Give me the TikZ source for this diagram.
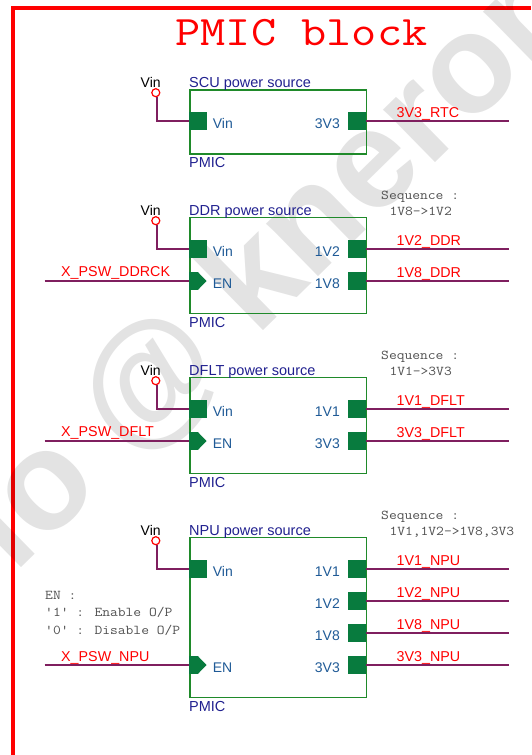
\documentclass[tikz,border=0pt]{standalone}
\usepackage{fontspec}
\setmainfont{Liberation Sans}
\definecolor{wirecol}{HTML}{7F1F5F}
\definecolor{pincol}{HTML}{087B3E}
\definecolor{boxcol}{HTML}{1F8A2A}
\definecolor{titlecol}{HTML}{20208F}
\definecolor{pintext}{HTML}{1F5A96}
\definecolor{notecol}{HTML}{505050}
\tikzset{
    wire/.style={draw=wirecol, line width=1.2pt},
    pmicbox/.style={draw=boxcol, line width=1.5pt, minimum width=176.5pt, inner sep=0pt, anchor=north west},
    pinbox/.style={fill=pincol, minimum size=17.5pt, inner sep=0pt},
    vinring/.style={circle, draw=red, line width=1.2pt, minimum size=8pt, inner sep=0pt},
    sigtext/.style={font=\fontsize{14.3}{14.3}\selectfont, text=red, anchor=base west, inner sep=0pt},
    pintxt/.style={font=\fontsize{14}{14}\selectfont, text=pintext, anchor=base, inner sep=0pt},
    blocktxt/.style={font=\fontsize{14.5}{14.5}\selectfont, text=titlecol, anchor=base west, inner sep=0pt},
    vintxt/.style={font=\fontsize{14}{14}\selectfont, text=black, anchor=base, inner sep=0pt},
    notetxt/.style={font=\ttfamily\fontsize{13.5}{13.5}\selectfont, text=notecol, anchor=base west, inner sep=0pt, xscale=1.12, transform shape},
}
\begin{document}
\begin{tikzpicture}[x=1pt, y=-1pt]
    \useasboundingbox (0,0) rectangle (531,755);
    \clip (0,0) rectangle (531,755);

    % Sheet border
    \draw[red, line width=4pt] (13,755) -- (13,8) -- (531,8);

    % Watermark
    \node[font=\fontsize{140}{140}\selectfont\bfseries, text=black, text opacity=0.11, rotate=44.4, anchor=base, inner sep=0pt] (mark) at (302,293) {io @ kneron};

    % Title
    \node[font=\ttfamily\fontsize{42}{42}\selectfont, text=red, anchor=base, inner sep=0pt, xscale=1.165, transform shape] (title) at (301.5,45) {PMIC block};

    % SCU block
    \node[pmicbox, minimum height=64pt] (scubox) at (189,89) {};
    \node[blocktxt] (scuname) at (189,87) {SCU power source};
    \node[blocktxt] (scupmic) at (189,167) {PMIC};
    \node[vintxt] (scuvinname) at (150.7,87) {Vin};
    \node[vinring] (scuring) at (155.8,92.7) {};
    \node[pinbox, anchor=west] (scuvin) at (189,121) {};
    \node[pinbox, anchor=east] (scuthree) at (366,121) {};
    \node[pintxt, anchor=base west] (scuvintxt) at (212.7,128) {Vin};
    \node[pintxt, anchor=base east] (scuthreetxt) at (340,128) {3V3};
    \coordinate (scuout) at (508.7,121);
    \draw[wire] (scuring.south -| 157,0) |- (scuvin.west);
    \draw[wire] (scuthree.east) -- (scuout);
    \node[sigtext] (scurtc) at (396.5,117) {3V3\_RTC};

    % DDR block
    \node[pmicbox, minimum height=96pt] (ddrbox) at (189,216.7) {};
    \node[blocktxt] (ddrname) at (189,215) {DDR power source};
    \node[blocktxt] (ddrpmic) at (189,327) {PMIC};
    \node[vintxt] (ddrvinname) at (150.7,215) {Vin};
    \node[vinring] (ddrring) at (155.8,220.7) {};
    \node[pinbox, anchor=west] (ddrvin) at (189,249) {};
    \fill[pincol] (189,272.2) -- (198,272.2) -- (206.5,281) -- (198,289.8) -- (189,289.8) -- cycle;
    \coordinate (ddren) at (189,281);
    \node[pinbox, anchor=east] (ddrtwo) at (366,249) {};
    \node[pinbox, anchor=east] (ddreight) at (366,281) {};
    \node[pintxt, anchor=base west] (ddrvintxt) at (212.7,256) {Vin};
    \node[pintxt, anchor=base west] (ddrentxt) at (212.7,288) {EN};
    \node[pintxt, anchor=base east] (ddrtwotxt) at (340,256) {1V2};
    \node[pintxt, anchor=base east] (ddreighttxt) at (340,288) {1V8};
    \coordinate (ddrckin) at (44.5,281);
    \coordinate (ddrtwoout) at (508.7,249);
    \coordinate (ddreightout) at (508.7,281);
    \draw[wire] (ddrring.south -| 157,0) |- (ddrvin.west);
    \draw[wire] (ddrckin) -- (ddren);
    \draw[wire] (ddrtwo.east) -- (ddrtwoout);
    \draw[wire] (ddreight.east) -- (ddreightout);
    \node[sigtext] (ddrck) at (61,276.7) {X\_PSW\_DDRCK};
    \node[sigtext] (ddrtwosig) at (396.5,245) {1V2\_DDR};
    \node[sigtext] (ddreightsig) at (396.5,277) {1V8\_DDR};
    \node[notetxt] (ddrseq) at (381,199.3) {Sequence :};
    \node[notetxt] (ddrord) at (389.3,215) {1V8->1V2};

    % DFLT block
    \node[pmicbox, minimum height=96pt] (dfltbox) at (189,376.7) {};
    \node[blocktxt] (dfltname) at (189,375) {DFLT power source};
    \node[blocktxt] (dfltpmic) at (189,487) {PMIC};
    \node[vintxt] (dfltvinname) at (150.7,375) {Vin};
    \node[vinring] (dfltring) at (155.8,380.7) {};
    \node[pinbox, anchor=west] (dfltvin) at (189,409) {};
    \fill[pincol] (189,432.2) -- (198,432.2) -- (206.5,441) -- (198,449.8) -- (189,449.8) -- cycle;
    \coordinate (dflten) at (189,441);
    \node[pinbox, anchor=east] (dfltone) at (366,409) {};
    \node[pinbox, anchor=east] (dfltthree) at (366,441) {};
    \node[pintxt, anchor=base west] (dfltvintxt) at (212.7,416) {Vin};
    \node[pintxt, anchor=base west] (dfltentxt) at (212.7,448) {EN};
    \node[pintxt, anchor=base east] (dfltonetxt) at (340,416) {1V1};
    \node[pintxt, anchor=base east] (dfltthreetxt) at (340,448) {3V3};
    \coordinate (dfltswin) at (44.5,441);
    \coordinate (dfltoneout) at (508.7,409);
    \coordinate (dfltthreeout) at (508.7,441);
    \draw[wire] (dfltring.south -| 157,0) |- (dfltvin.west);
    \draw[wire] (dfltswin) -- (dflten);
    \draw[wire] (dfltone.east) -- (dfltoneout);
    \draw[wire] (dfltthree.east) -- (dfltthreeout);
    \node[sigtext] (dfltsw) at (61,436.7) {X\_PSW\_DFLT};
    \node[sigtext] (dfltonesig) at (396.5,405) {1V1\_DFLT};
    \node[sigtext] (dfltthreesig) at (396.5,437) {3V3\_DFLT};
    \node[notetxt] (dfltseq) at (381,359.3) {Sequence :};
    \node[notetxt] (dfltord) at (389.3,375) {1V1->3V3};

    % NPU block
    \node[pmicbox, minimum height=160pt] (npubox) at (189,536.7) {};
    \node[blocktxt] (npuname) at (189,535) {NPU power source};
    \node[blocktxt] (npupmic) at (189,711) {PMIC};
    \node[vintxt] (npuvinname) at (150.7,535) {Vin};
    \node[vinring] (npuring) at (155.8,540.7) {};
    \node[pinbox, anchor=west] (npuvin) at (189,569) {};
    \fill[pincol] (189,656.2) -- (198,656.2) -- (206.5,665) -- (198,673.8) -- (189,673.8) -- cycle;
    \coordinate (npuen) at (189,665);
    \node[pinbox, anchor=east] (npuone) at (366,569) {};
    \node[pinbox, anchor=east] (nputwo) at (366,601) {};
    \node[pinbox, anchor=east] (npueight) at (366,633) {};
    \node[pinbox, anchor=east] (nputhree) at (366,665) {};
    \node[pintxt, anchor=base west] (npuvintxt) at (212.7,576) {Vin};
    \node[pintxt, anchor=base west] (npuentxt) at (212.7,672) {EN};
    \node[pintxt, anchor=base east] (npuonetxt) at (340,576) {1V1};
    \node[pintxt, anchor=base east] (nputwotxt) at (340,608) {1V2};
    \node[pintxt, anchor=base east] (npueighttxt) at (340,640) {1V8};
    \node[pintxt, anchor=base east] (nputhreetxt) at (340,672) {3V3};
    \coordinate (npuswin) at (44.5,665);
    \coordinate (npuoneout) at (508.7,569);
    \coordinate (nputwoout) at (508.7,601);
    \coordinate (npueightout) at (508.7,633);
    \coordinate (nputhreeout) at (508.7,665);
    \draw[wire] (npuring.south -| 157,0) |- (npuvin.west);
    \draw[wire] (npuswin) -- (npuen);
    \draw[wire] (npuone.east) -- (npuoneout);
    \draw[wire] (nputwo.east) -- (nputwoout);
    \draw[wire] (npueight.east) -- (npueightout);
    \draw[wire] (nputhree.east) -- (nputhreeout);
    \node[sigtext] (npusw) at (61,661) {X\_PSW\_NPU};
    \node[sigtext] (npuonesig) at (396.5,565) {1V1\_NPU};
    \node[sigtext] (nputwosig) at (396.5,597) {1V2\_NPU};
    \node[sigtext] (npueightsig) at (396.5,629) {1V8\_NPU};
    \node[sigtext] (nputhreesig) at (396.5,661) {3V3\_NPU};
    \node[notetxt] (npuseq) at (381,519.3) {Sequence :};
    \node[notetxt] (npuord) at (389.3,535) {1V1,1V2->1V8,3V3};

    % Enable note
    \node[notetxt] (enhead) at (45,599.3) {EN :};
    \node[notetxt] (enone) at (45,616) {'1' : Enable O/P};
    \node[notetxt] (enzero) at (45,634) {'0' : Disable O/P};
\end{tikzpicture}
\end{document}
